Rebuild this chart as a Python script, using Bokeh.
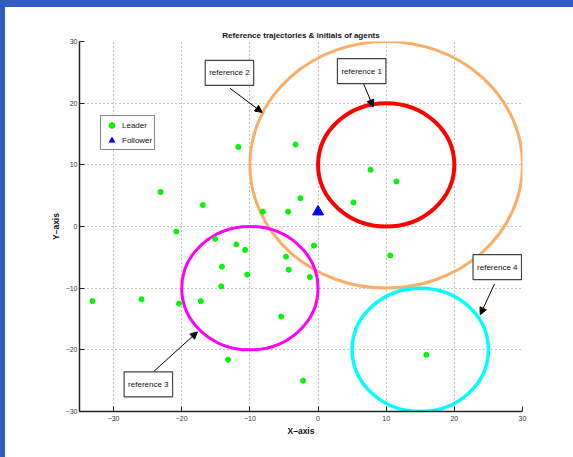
from bokeh.plotting import figure
from bokeh.models import Range1d, FixedTicker, Legend, LegendItem, Label, Arrow, NormalHead
from bokeh.embed import file_html
from bokeh.resources import INLINE

# ---- data ----
leader_x = [-23.1, -16.9, -11.7, -3.3, 7.7, 11.5, 5.2, -2.6, -4.4, -8.1,
            -20.8, -15.1, -12.0, -10.7, -14.1, -10.4, -14.2, -33.1, -25.9, -20.4,
            -17.2, -5.4, -13.2, -4.7, -4.3, -0.6, -1.2, 10.6, 15.9, -2.2]
leader_y = [5.6, 3.5, 12.9, 13.3, 9.2, 7.3, 3.9, 4.6, 2.4, 2.4,
            -0.8, -2.0, -2.9, -3.8, -6.5, -7.8, -9.7, -12.1, -11.8, -12.5,
            -12.1, -14.6, -21.6, -4.9, -7.0, -3.1, -8.2, -4.7, -20.8, -25.0]
follower_x = [0.0]
follower_y = [2.4]

ref_names = ["reference 1", "reference 2", "reference 3", "reference 4"]
ref_cx = [10, 10, -10, 15]
ref_cy = [10, 10, -10, -20]
ref_r = [10, 20, 10, 10]
ref_colors = ["#ff0000", "#fbae68", "#ff00ff", "#00ffff"]

x_ticks = [-30, -20, -10, 0, 10, 20, 30]
y_ticks = [-30, -20, -10, 0, 10, 20, 30]

FONT = "'Liberation Sans Narrow', 'Liberation Sans', sans-serif"

p = figure(output_backend="svg", toolbar_location=None,
           frame_width=443, frame_height=370,
           min_border_left=79, min_border_top=41, min_border_right=30, min_border_bottom=40,
           x_range=Range1d(-35, 30), y_range=Range1d(-30, 30),
           title="Reference trajectories & initials of agents")
p.outline_line_color = None
p.background_fill_color = "white"
p.border_fill_color = "white"

p.title.align = "center"
p.title.text_font = FONT
p.title.text_font_size = "8px"
p.title.text_font_style = "bold"
p.title.text_color = "#111111"
p.title.standoff = 4

for ax, t in ((p.xaxis[0], x_ticks), (p.yaxis[0], y_ticks)):
    ax.ticker = FixedTicker(ticks=t)
    ax.major_tick_in = 5
    ax.major_tick_out = 0
    ax.minor_tick_line_color = None
    ax.axis_line_width = 1.5
    ax.axis_line_color = "#222222"
    ax.major_tick_line_color = "#222222"
    ax.major_label_text_font = FONT
    ax.major_label_text_font_size = "7px"
    ax.major_label_text_color = "#333333"
    ax.axis_label_text_font = FONT
    ax.axis_label_text_font_size = "8.5px"
    ax.axis_label_text_font_style = "bold"
    ax.axis_label_text_color = "#111111"

p.xaxis.axis_label = "X\u2013axis"
p.yaxis.axis_label = "Y\u2013axis"
p.xaxis.major_label_standoff = 4
p.xaxis.axis_label_standoff = 2
p.yaxis.major_label_standoff = 2
p.yaxis.axis_label_standoff = 2

for g, t in ((p.xgrid[0], x_ticks), (p.ygrid[0], y_ticks)):
    g.ticker = FixedTicker(ticks=t)
    g.grid_line_color = "#8a8a8a"
    g.grid_line_dash = "1 3"
    g.grid_line_width = 1

# reference circles (orange drawn first)
widths = {0: 4, 1: 3, 2: 3, 3: 3.5}
for i in [1, 0, 2, 3]:
    p.ellipse(x=[ref_cx[i]], y=[ref_cy[i]], width=[2 * ref_r[i]], height=[2 * ref_r[i]],
              fill_color=None, line_color=ref_colors[i], line_width=widths[i])

leaders = p.scatter(leader_x, leader_y, marker="circle", size=5,
                    fill_color="#00ff00", line_color="#00ee00")
follower = p.scatter(follower_x, follower_y, marker="triangle", size=11,
                     fill_color="#0000ff", line_color="#0000ff")

legend = Legend(items=[LegendItem(label="Leader", renderers=[leaders]),
                       LegendItem(label="Follower", renderers=[follower])],
                location=(21, 261), orientation="vertical",
                glyph_width=17, glyph_height=14, label_height=14, label_standoff=2,
                spacing=1, padding=2, margin=0,
                label_text_font=FONT, label_text_font_size="8px", label_text_color="#111111",
                border_line_color="#111111", border_line_width=1.5,
                background_fill_color="white", background_fill_alpha=1)
p.add_layout(legend, "center")

# annotation boxes and arrows
label_pos = [(6.4, 25.2), (-13.0, 24.9), (-24.9, -25.6), (26.3, -6.6)]
arrows = [((6.7, 23.1), (8.1, 19.4)),
          ((-12.9, 22.4), (-8.2, 18.5)),
          ((-24.1, -23.5), (-17.7, -17.1)),
          ((25.9, -9.3), (23.8, -14.3))]
for name, (lx, ly), ((xs, ys), (xe, ye)) in zip(ref_names, label_pos, arrows):
    p.add_layout(Arrow(end=NormalHead(size=7, fill_color="black", line_color="black"),
                       x_start=xs, y_start=ys, x_end=xe, y_end=ye,
                       line_color="black", line_width=1))
    p.add_layout(Label(x=lx, y=ly, text=name, text_align="center", text_baseline="middle",
                       text_font=FONT, text_font_size="8px", text_color="#111111",
                       background_fill_color="white", background_fill_alpha=1,
                       border_line_color="#444444", border_line_width=1.2,
                       padding=(4, 8)))

html = file_html(p, INLINE)
style = ("<style>html::before{content:'';position:fixed;left:0;top:0;right:0;height:7px;"
         "background:#315cc4;z-index:10}"
         "html::after{content:'';position:fixed;left:0;top:0;bottom:0;width:5px;"
         "background:#315cc4;z-index:10}</style>")
html = html.replace("</head>", style + "</head>", 1)
open("out.html", "w").write(html)
